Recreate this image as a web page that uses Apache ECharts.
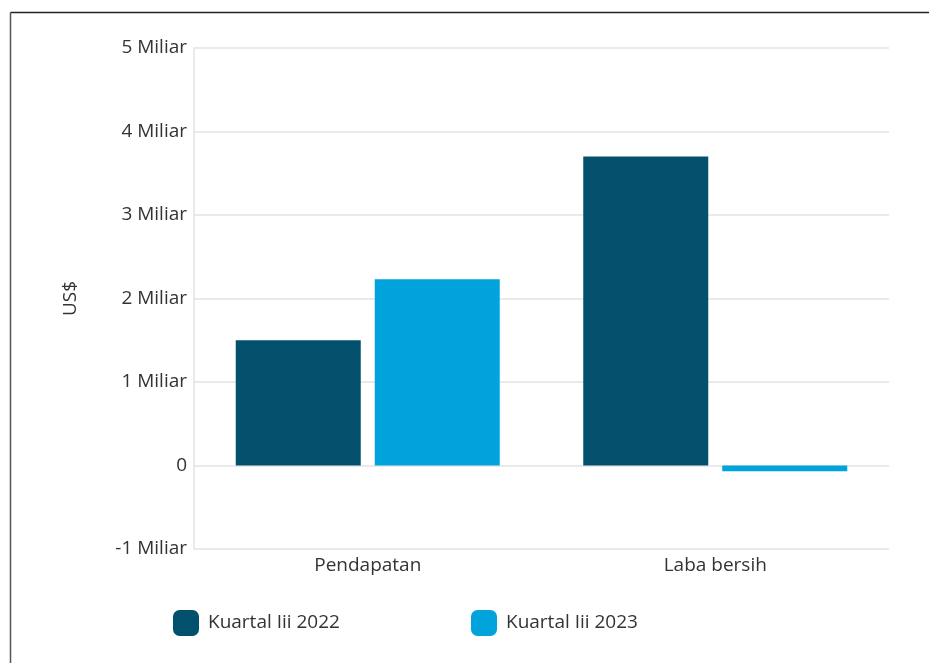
<!DOCTYPE html>
<html><head><meta charset="utf-8">
<script src="https://cdn.jsdelivr.net/npm/echarts@6/dist/echarts.min.js"></script>
<style>html,body{margin:0;padding:0;background:#fff}#c{width:929px;height:663px}</style>
</head><body><div id="c"></div>
<script>
const categories = ["Pendapatan", "Laba bersih"];
const seriesNames = ["Kuartal Iii 2022", "Kuartal Iii 2023"];
const q3_2022 = [1.50, 3.70];
const q3_2023 = [2.23, -0.07];
const yTicks = [-1, 0, 1, 2, 3, 4, 5];
const colors = ["#02506B", "#00A3DB"];
const FONT = "'Open Sans', sans-serif";
const FS = 19;

const chart = echarts.init(document.getElementById('c'), null, {renderer: 'canvas'});
chart.setOption({
  animation: false,
  textStyle: {fontFamily: FONT},
  graphic: [
    {type: 'line', shape: {x1: 10.5, y1: 12.5, x2: 929, y2: 12.5}, style: {stroke: '#222', lineWidth: 1.5}},
    {type: 'line', shape: {x1: 10.5, y1: 12.5, x2: 10.5, y2: 663}, style: {stroke: '#555', lineWidth: 1.5}}
  ],
  grid: {left: 194, right: 40, top: 48, bottom: 114, containLabel: false},
  legend: [
    {data: [seriesNames[0]], left: 168, top: 605, itemWidth: 26, itemHeight: 26, icon: 'roundRect',
     textStyle: {fontSize: FS, color: '#333', fontFamily: FONT, padding: [2,0,0,4]}},
    {data: [seriesNames[1]], left: 466, top: 605, itemWidth: 26, itemHeight: 26, icon: 'roundRect',
     textStyle: {fontSize: FS, color: '#333', fontFamily: FONT, padding: [2,0,0,4]}}
  ],
  xAxis: {
    type: 'category', data: categories,
    axisLine: {show: false, onZero: false}, axisTick: {show: false},
    axisLabel: {fontSize: FS, color: '#333', margin: 7, fontFamily: FONT}
  },
  yAxis: {
    type: 'value', min: yTicks[0], max: yTicks[yTicks.length-1], interval: 1,
    name: 'US$', nameLocation: 'middle', nameGap: 114, nameRotate: 90,
    nameTextStyle: {fontSize: 19, color: '#333', fontFamily: FONT},
    axisLine: {show: true, lineStyle: {color: '#e3e3e3', width: 1.5}},
    axisTick: {show: false},
    splitLine: {lineStyle: {color: '#e3e3e3', width: 1.5}},
    axisLabel: {fontSize: FS, color: '#333', margin: 7, fontFamily: FONT,
      formatter: v => v === 0 ? '0' : v + ' Miliar'}
  },
  series: [
    {name: seriesNames[0], type: 'bar', data: q3_2022, barWidth: 125, barGap: '11.2%',
     itemStyle: {color: colors[0]}},
    {name: seriesNames[1], type: 'bar', data: q3_2023, barWidth: 125, barGap: '11.2%',
     itemStyle: {color: colors[1]}}
  ]
});
</script></body></html>
